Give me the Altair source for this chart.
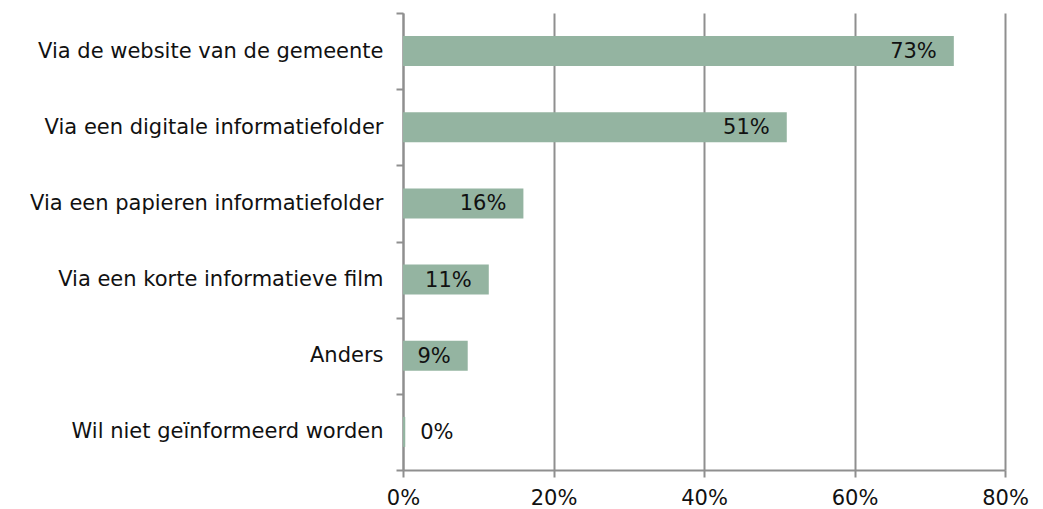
import altair as alt
import pandas as pd

categories = [
    "Via de website van de gemeente",
    "Via een digitale informatiefolder",
    "Via een papieren informatiefolder",
    "Via een korte informatieve film",
    "Anders",
    "Wil niet geïnformeerd worden",
]
values = [73.2, 51.0, 16.0, 11.4, 8.6, 0.3]
labels = ["73%", "51%", "16%", "11%", "9%", "0%"]
x_ticks = [0, 20, 40, 60, 80]

df = pd.DataFrame({"cat": categories, "val": values, "lab": labels})

FONT = "DejaVu Sans"
GRID = "#8f8f8f"

y_enc = alt.Y(
    "cat:N",
    sort=categories,
    title=None,
    scale=alt.Scale(paddingInner=0, paddingOuter=0),
    axis=alt.Axis(
        tickBand="extent",
        tickSize=7,
        tickColor=GRID,
        tickWidth=2,
        domainColor=GRID,
        domainWidth=2,
        labelPadding=13,
        labelFontSize=21,
        labelFont=FONT,
        labelColor="#111111",
        labelLimit=400,
        grid=False,
    ),
)
x_enc = alt.X(
    "val:Q",
    title=None,
    scale=alt.Scale(domain=[0, 80], nice=False),
    axis=alt.Axis(
        values=x_ticks,
        labelExpr="datum.value + '%'",
        tickSize=7,
        tickColor=GRID,
        tickWidth=2,
        domainColor=GRID,
        domainWidth=2,
        grid=True,
        gridColor=GRID,
        gridWidth=2,
        labelFontSize=21,
        labelFont=FONT,
        labelColor="#111111",
        labelPadding=10,
        labelFlush=False,
        labelBound=False,
    ),
)

bars = alt.Chart(df).mark_bar(color="#94B4A1", size=30).encode(x=x_enc, y=y_enc)

text_in = alt.Chart(df).transform_filter("datum.val >= 1").mark_text(
    align="right", baseline="middle", dx=-17, dy=1, fontSize=21, font=FONT, color="#111111"
).encode(x="val:Q", y=alt.Y("cat:N", sort=categories), text="lab:N")

text_out = alt.Chart(df).transform_filter("datum.val < 1").mark_text(
    align="left", baseline="middle", dx=15, dy=1, fontSize=21, font=FONT, color="#111111"
).encode(x="val:Q", y=alt.Y("cat:N", sort=categories), text="lab:N")

chart = (
    alt.layer(bars, text_in, text_out)
    .properties(
        width=602,
        height=457,
        background="white",
        autosize=alt.AutoSizeParams(type="none"),
        padding={"left": 395, "top": 5, "right": 30, "bottom": 38},
    )
    .configure_view(stroke=None)
)

chart.save("out.html", embed_options={"renderer": "svg", "actions": False})
